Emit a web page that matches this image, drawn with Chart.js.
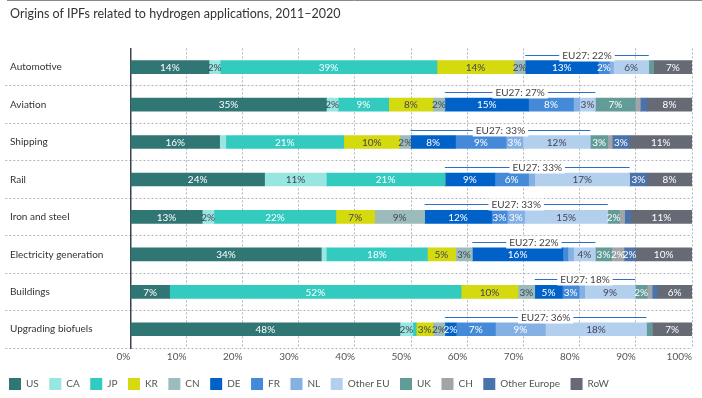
<!DOCTYPE html>
<html>
<head>
<meta charset="utf-8">
<script src="https://cdn.jsdelivr.net/npm/chart.js@4/dist/chart.umd.min.js"></script>
<style>
  html, body { margin: 0; padding: 0; background: #fff; }
  #wrap { width: 702px; height: 398px; position: relative; }
</style>
</head>
<body>
<div id="wrap"><canvas id="chart"></canvas></div>
<script>
const applications = ['Automotive', 'Aviation', 'Shipping', 'Rail', 'Iron and steel',
  'Electricity generation', 'Buildings', 'Upgrading biofuels'];

// shares in % per origin, one value per application
const us          = [14,   34.9, 15.9, 23.9, 12.8, 34,   7,    48];
const ca          = [2,    2.1,  1.1,  11,   2.1,  0.9,  0,    2.3];
const jp          = [38.6, 9,    21,   21.1, 21.7, 18,   51.9, 0.6];
const kr          = [13.7, 7.9,  10,   0,    6.9,  5,    10.1, 3];
const cn          = [2,    2.1,  1.9,  0,    8.9,  3,    3,    2.1];
const de          = [13,   14.9, 8,    8.9,  11.9, 16.1, 4.9,  2];
const fr          = [2,    8,    9,    6,    2.8,  0.9,  3,    7];
const nl          = [0.7,  1.1,  3,    1.1,  3.1,  1,    1,    8.9];
const otherEU     = [6.3,  2.8,  12,   16.9, 14.8, 3.9,  9,    18];
const uk          = [0.8,  7.1,  3.1,  0,    2.1,  2.9,  2.1,  1];
const ch          = [0,    0.9,  0.8,  0,    0.9,  2.2,  0.9,  0];
const otherEurope = [0,    1.2,  3.1,  3.1,  1.1,  2,    0.9,  0];
const row         = [7,    8,    11.1, 8,    10.9, 10.1, 6.2,  7.1];

const eu27 = [22, 27, 33, 33, 33, 22, 18, 36];

const origins = ['US', 'CA', 'JP', 'KR', 'CN', 'DE', 'FR', 'NL', 'Other EU', 'UK', 'CH', 'Other Europe', 'RoW'];
const series = [us, ca, jp, kr, cn, de, fr, nl, otherEU, uk, ch, otherEurope, row];
const colors = ['#307674', '#98e6e0', '#33cbc0', '#d4da0e', '#9bbcbb', '#0062c9', '#448ad8',
  '#84b0e4', '#b2cfee', '#629b98', '#a1a4a8', '#4a72ab', '#656a74'];
const textColors = ['#fff', '#445', '#fff', '#445', '#445', '#fff', '#fff',
  '#fff', '#445', '#fff', '#fff', '#fff', '#fff'];

const FONT = 'Lato, "Noto Sans", sans-serif';

// percent labels inside the segments
const segmentLabels = {
  id: 'segmentLabels',
  afterDatasetsDraw(chart) {
    const ctx = chart.ctx;
    ctx.save();
    ctx.font = '10px ' + FONT;
    ctx.textAlign = 'center';
    ctx.textBaseline = 'middle';
    chart.data.datasets.forEach((ds, di) => {
      const meta = chart.getDatasetMeta(di);
      meta.data.forEach((bar, i) => {
        const v = ds.data[i];
        if (v < 1.5) return;
        ctx.fillStyle = textColors[di];
        ctx.fillText(Math.round(v) + '%', (bar.x + bar.base) / 2, bar.y + 0.5);
      });
    });
    ctx.restore();
  }
};

// EU27 bracket above DE..Other EU
const euBracket = {
  id: 'euBracket',
  afterDatasetsDraw(chart) {
    const ctx = chart.ctx;
    const deMeta = chart.getDatasetMeta(5);
    const euMeta = chart.getDatasetMeta(8);
    ctx.save();
    ctx.font = '10px ' + FONT;
    ctx.textAlign = 'center';
    ctx.textBaseline = 'middle';
    deMeta.data.forEach((bar, i) => {
      const x1 = bar.base;
      const x2 = euMeta.data[i].x;
      const y = Math.round(bar.y - bar.height / 2 - 6) + 0.5;
      ctx.strokeStyle = '#2a70c8';
      ctx.lineWidth = 1;
      ctx.beginPath();
      ctx.moveTo(x1, y);
      ctx.lineTo(x2, y);
      ctx.stroke();
      const txt = 'EU27: ' + eu27[i] + '%';
      const w = ctx.measureText(txt).width;
      const cx = (x1 + x2) / 2;
      ctx.fillStyle = '#fff';
      ctx.fillRect(cx - w / 2 - 3, y - 6, w + 6, 12);
      ctx.fillStyle = '#444';
      ctx.fillText(txt, cx, y);
    });
    ctx.restore();
  }
};

const topRule = {
  id: 'topRule',
  beforeDraw(chart) {
    const ctx = chart.ctx;
    ctx.save();
    ctx.strokeStyle = '#8a8a8a';
    ctx.lineWidth = 1;
    ctx.beginPath();
    ctx.moveTo(7, 0.5);
    ctx.lineTo(chart.width, 0.5);
    ctx.stroke();
    ctx.restore();
  },
  afterLayout(chart) {
    // legend starts nearer the left edge than the title padding allows
    if (chart.legend) chart.legend.left = -1.5;
  }
};

new Chart(document.getElementById('chart'), {
  type: 'bar',
  data: {
    labels: applications,
    datasets: series.map((d, i) => ({
      label: origins[i],
      data: d,
      backgroundColor: colors[i],
      borderWidth: 0,
      barThickness: 13
    }))
  },
  options: {
    indexAxis: 'y',
    responsive: true,
    maintainAspectRatio: false,
    animation: false,
    layout: { padding: { left: 10, right: 10, top: 0, bottom: -2 } },
    scales: {
      x: {
        stacked: true,
        min: 0,
        max: 100,
        afterFit: s => { s.height = 19.5; },
        ticks: {
          stepSize: 10,
          align: 'end',
          padding: 3,
          color: '#555',
          font: { family: FONT, size: 10 },
          callback: v => v + '%'
        },
        grid: {
          drawTicks: false,
          color: c => (c.tick && c.tick.value === 0) ? 'rgba(0,0,0,0)' : '#b4b6bd'
        },
        border: { display: false, dash: [2, 2] }
      },
      y: {
        stacked: true,
        afterFit: s => { s.width = 120.3; },
        ticks: {
          crossAlign: 'far',
          color: '#333',
          font: { family: FONT, size: 10 }
        },
        grid: {
          offset: true,
          drawTicks: true,
          tickLength: 125,
          color: c => c.index === 0 ? 'rgba(0,0,0,0)' : '#b4b6bd',
          tickBorderDash: [2, 2]
        },
        border: { display: true, color: '#3a4350', width: 1.5, dash: [2, 2] }
      }
    },
    plugins: {
      title: {
        display: true,
        text: 'Origins of IPFs related to hydrogen applications, 2011\u20132020',
        align: 'start',
        color: '#333',
        font: { family: FONT, size: 12.5, weight: 'normal' },
        padding: { top: 6, bottom: 27.4 }
      },
      legend: {
        position: 'bottom',
        align: 'start',
        labels: {
          boxWidth: 12,
          boxHeight: 12,
          padding: 10.5,
          color: '#555',
          font: { family: FONT, size: 10 }
        }
      },
      tooltip: { enabled: false }
    }
  },
  plugins: [topRule, segmentLabels, euBracket]
});
</script>
</body>
</html>
